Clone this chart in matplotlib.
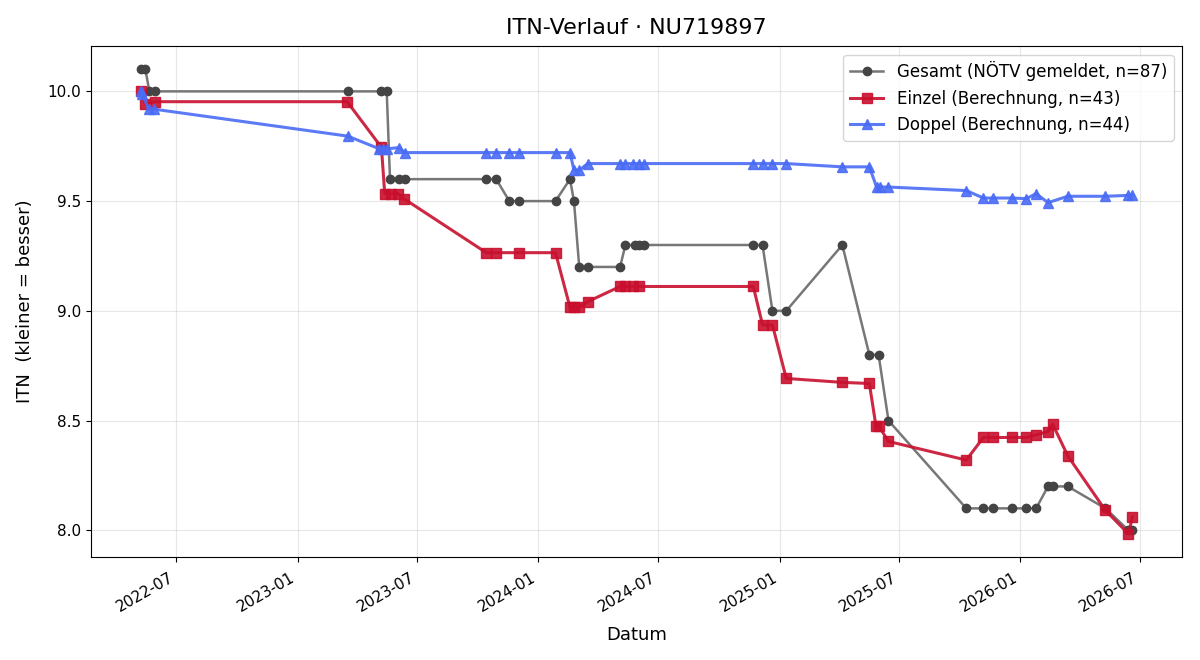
import matplotlib
matplotlib.use("Agg")
import matplotlib.pyplot as plt
import matplotlib.dates as mdates
import pandas as pd

# Gesamt: ITN as reported by the federation
gesamt_dates = ["2022-05-08", "2022-05-15", "2022-05-21", "2022-05-29", "2023-03-18",
                "2023-05-08", "2023-05-16", "2023-05-21", "2023-06-04", "2023-06-12",
                "2023-10-14", "2023-10-29", "2023-11-18", "2023-12-03", "2024-01-27",
                "2024-02-18", "2024-02-24", "2024-03-03", "2024-03-16", "2024-05-04",
                "2024-05-12", "2024-05-26", "2024-06-02", "2024-06-09", "2024-11-22",
                "2024-12-06", "2024-12-21", "2025-01-11", "2025-04-06", "2025-05-17",
                "2025-05-31", "2025-06-15", "2025-10-11", "2025-11-06", "2025-11-21",
                "2025-12-20", "2026-01-10", "2026-01-25", "2026-02-12", "2026-02-19",
                "2026-03-14", "2026-05-10", "2026-06-14", "2026-06-20"]
gesamt_vals = [10.1, 10.1, 10.0, 10.0, 10.0,
               10.0, 10.0, 9.6, 9.6, 9.6,
               9.6, 9.6, 9.5, 9.5, 9.5,
               9.6, 9.5, 9.2, 9.2, 9.2,
               9.3, 9.3, 9.3, 9.3, 9.3,
               9.3, 9.0, 9.0, 9.3, 8.8,
               8.8, 8.5, 8.1, 8.1, 8.1,
               8.1, 8.1, 8.1, 8.2, 8.2,
               8.2, 8.1, 8.0, 8.0]

# Einzel (singles) computed
einzel_dates = ["2022-05-08", "2022-05-15", "2022-05-29", "2023-03-17", "2023-05-08",
                "2023-05-13", "2023-05-23", "2023-06-02", "2023-06-11", "2023-10-14",
                "2023-10-29", "2023-12-03", "2024-01-27", "2024-02-18", "2024-02-24",
                "2024-03-03", "2024-03-16", "2024-05-04", "2024-05-12", "2024-05-24",
                "2024-06-01", "2024-11-22", "2024-12-06", "2024-12-21", "2025-01-11",
                "2025-04-06", "2025-05-17", "2025-05-27", "2025-05-31", "2025-06-15",
                "2025-10-11", "2025-11-06", "2025-11-21", "2025-12-20", "2026-01-10",
                "2026-01-25", "2026-02-12", "2026-02-19", "2026-03-14", "2026-05-10",
                "2026-06-14", "2026-06-20"]
einzel_vals = [10.0, 9.941, 9.953, 9.953, 9.745,
               9.534, 9.534, 9.534, 9.511, 9.265,
               9.265, 9.265, 9.265, 9.016, 9.016,
               9.016, 9.042, 9.111, 9.111, 9.111,
               9.111, 9.111, 8.936, 8.936, 8.692,
               8.674, 8.669, 8.476, 8.476, 8.405,
               8.320, 8.423, 8.423, 8.423, 8.423,
               8.435, 8.450, 8.484, 8.339, 8.091,
               7.984, 8.061]

# Doppel (doubles) computed
doppel_dates = ["2022-05-08", "2022-05-10", "2022-05-20", "2022-05-28", "2023-03-18",
                "2023-05-05", "2023-05-10", "2023-05-16", "2023-06-04", "2023-06-12",
                "2023-10-14", "2023-10-29", "2023-11-18", "2023-12-03", "2024-01-27",
                "2024-02-18", "2024-02-24", "2024-03-03", "2024-03-16", "2024-05-04",
                "2024-05-12", "2024-05-24", "2024-06-01", "2024-06-09", "2024-11-22",
                "2024-12-06", "2024-12-21", "2025-01-11", "2025-04-06", "2025-05-17",
                "2025-05-28", "2025-06-02", "2025-06-15", "2025-10-11", "2025-11-06",
                "2025-11-21", "2025-12-20", "2026-01-10", "2026-01-25", "2026-02-12",
                "2026-03-14", "2026-05-10", "2026-06-14", "2026-06-20"]
doppel_vals = [10.0, 9.99, 9.919, 9.919, 9.796,
               9.738, 9.738, 9.738, 9.744, 9.721,
               9.721, 9.721, 9.721, 9.721, 9.721,
               9.721, 9.641, 9.641, 9.671, 9.671,
               9.671, 9.671, 9.671, 9.671, 9.671,
               9.671, 9.671, 9.671, 9.656, 9.656,
               9.564, 9.564, 9.564, 9.548, 9.514,
               9.514, 9.514, 9.511, 9.534, 9.493,
               9.522, 9.522, 9.526, 9.526]

fig, ax = plt.subplots(figsize=(12, 6.6), dpi=100)

ax.plot(pd.to_datetime(gesamt_dates), gesamt_vals, color="#777777", lw=1.8,
        marker="o", ms=6, mfc="#444444", mec="#444444",
        label="Gesamt (NÖTV gemeldet, n=87)")
ax.plot(pd.to_datetime(einzel_dates), einzel_vals, color="#c8102e", lw=2.2, alpha=0.9,
        marker="s", ms=7, label="Einzel (Berechnung, n=43)")
ax.plot(pd.to_datetime(doppel_dates), doppel_vals, color="#4a6cf5", lw=2.2, alpha=0.9,
        marker="^", ms=7, label="Doppel (Berechnung, n=44)")

ax.set_title("ITN-Verlauf · NU719897", fontsize=16, pad=9)
ax.set_xlabel("Datum", fontsize=13, labelpad=8)
ax.set_ylabel("ITN  (kleiner = besser)", fontsize=13, labelpad=10)
ax.xaxis.set_major_locator(mdates.MonthLocator(bymonth=[1, 7]))
ax.xaxis.set_major_formatter(mdates.DateFormatter("%Y-%m"))
ax.tick_params(labelsize=11)
ax.tick_params(axis="x", pad=6)
ax.grid(True, alpha=0.3)
ax.legend(loc="upper right", fontsize=12)
fig.autofmt_xdate()

fig.subplots_adjust(left=0.076, right=0.985, top=0.930, bottom=0.156)
fig.savefig("out.png")
